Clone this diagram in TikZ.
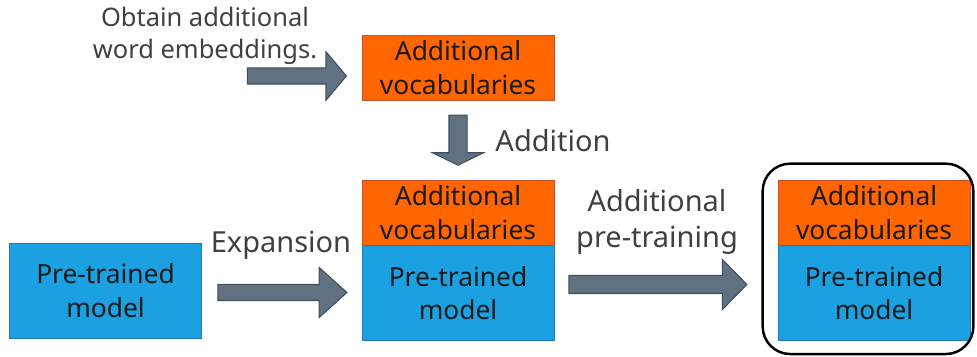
\documentclass[tikz,border=0pt]{standalone}
\usepackage{fontspec}
\setmainfont{Noto Sans}
\usetikzlibrary{shapes.arrows,calc}

\definecolor{vocaborange}{HTML}{FF6600}
\definecolor{vocabedge}{HTML}{C8502A}
\definecolor{modelblue}{HTML}{1BA1E2}
\definecolor{modeledge}{HTML}{1E7BB8}
\definecolor{arrowgray}{HTML}{607182}
\definecolor{arrowedge}{HTML}{3E4E5E}
\definecolor{boxtext}{HTML}{1A1A1A}
\definecolor{labeltext}{HTML}{404040}

\begin{document}
\begin{tikzpicture}[x=0.02cm, y=-0.02cm,
    box/.style={draw, rectangle, minimum width=3.84cm, inner sep=0pt, align=center,
        text=boxtext, font=\fontsize{15}{19}\selectfont},
    vocab/.style={box, fill=vocaborange, draw=vocabedge, minimum height=1.3cm},
    model/.style={box, fill=modelblue, draw=modeledge, minimum height=1.9cm},
    fatarrow/.style={single arrow, draw=arrowedge, fill=arrowgray, line width=0.6pt},
    arrowtext/.style={text=labeltext, align=center, font=\fontsize{16.5}{20}\selectfont},
    frame/.style={draw=black, line width=1.4pt, rounded corners=0.55cm}]
    \useasboundingbox (0,0) rectangle (977,357);
    % Starting model
    \node[model] (pre) at (105.5,290.5) {Pre-trained\\model};
    % New vocabularies
    \node[vocab] (topvoc) at (458,67.5) {Additional\\vocabularies};
    \node[text=labeltext, align=center, font=\fontsize{14.5}{18}\selectfont] (note) at (205,36) {Obtain additional\\word embeddings.};
    \node[fatarrow, inner sep=0.15cm, minimum height=1.98cm,
        single arrow head extend=0.33cm, single arrow tip angle=100] (getarrow) at (293.5,76) {};
    % Expanded model
    \node[vocab] (midvoc) at (458,212.5) {Additional\\vocabularies};
    \node[model, anchor=north] (midpre) at (midvoc.south) {Pre-trained\\model};
    \node[fatarrow, inner sep=0.17cm, minimum height=1cm, shape border rotate=270,
        single arrow head extend=0.33cm, single arrow tip angle=128] (addarrow) at (458,138) {};
    \node[arrowtext] at (553,141) {Addition};
    \node[fatarrow, inner sep=0.15cm, minimum height=2.58cm,
        single arrow head extend=0.34cm, single arrow tip angle=84] (expandarrow) at (278,292.5) {};
    \node[arrowtext] at (281,245) {Expansion};
    % Final model
    \node[fatarrow, inner sep=0.17cm, minimum height=3.56cm,
        single arrow head extend=0.32cm, single arrow tip angle=91] (trainarrow) at (653.5,284.5) {};
    \node[arrowtext] at (657,222) {Additional\\pre-training};
    \node[vocab] (rightvoc) at (874,212.5) {Additional\\vocabularies};
    \node[model, anchor=north] (rightpre) at (rightvoc.south) {Pre-trained\\model};
    \draw[frame] ($(rightvoc.north west)+(-15,-16)$) rectangle ($(rightpre.south east)+(3,13)$);
\end{tikzpicture}
\end{document}
